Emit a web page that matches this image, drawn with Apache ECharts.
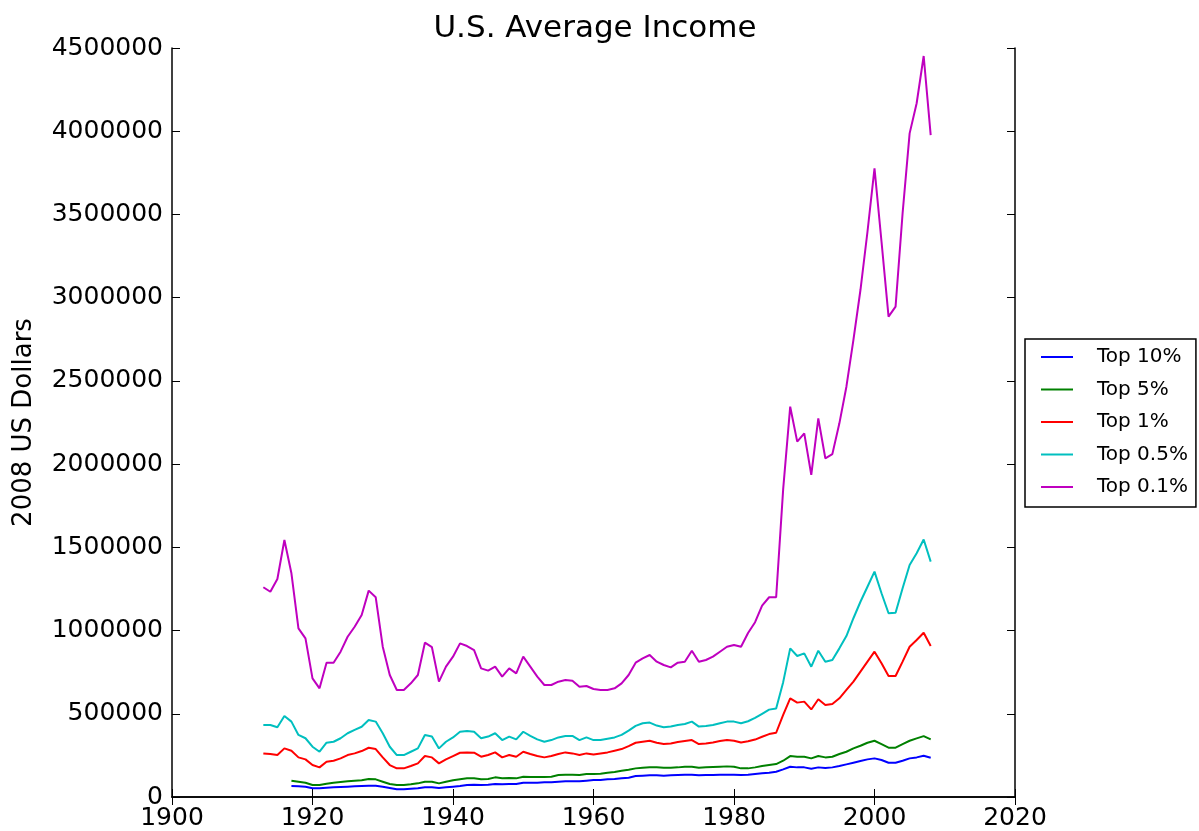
<!DOCTYPE html>
<html>
<head>
<meta charset="utf-8">
<script src="https://cdn.jsdelivr.net/npm/echarts@6/dist/echarts.min.js"></script>
<style>html,body{margin:0;padding:0;background:#fff;}#c{width:1199px;height:831px;}</style>
</head>
<body>
<div id="c"></div>
<script>
const startYear = 1913;
const endYear = 2008;
const xTicks = [1900, 1920, 1940, 1960, 1980, 2000, 2020];
const seriesNames = ['Top 10%', 'Top 5%', 'Top 1%', 'Top 0.5%', 'Top 0.1%'];
const seriesColors = ['#0000ff', '#008000', '#ff0000', '#00bfbf', '#bf00bf'];

const top10 = [
  null,null,null,null,66000,64000,62000,52000,52000,56000,
  58000,60000,62000,64000,66000,68000,68000,62000,54000,46000,
  46000,50000,52000,58000,58000,54000,58000,62000,66000,72000,
  74000,72000,74000,78000,76000,78000,78000,86000,86000,86000,
  88000,88000,92000,94000,94000,94000,98000,102000,102000,106000,
  108000,112000,116000,126000,128000,130000,130000,128000,130000,132000,
  134000,134000,130000,132000,132000,134000,134000,134000,132000,134000,
  138000,142000,146000,152000,166000,182000,178000,178000,170000,178000,
  174000,178000,186000,196000,206000,216000,226000,232000,222000,206000,
  206000,218000,232000,238000,248000,236000
];
const top5 = [
  null,null,null,null,98000,92000,86000,72000,72000,80000,
  86000,90000,94000,98000,100000,108000,106000,92000,78000,72000,
  72000,76000,82000,92000,92000,82000,92000,100000,106000,112000,
  112000,106000,108000,118000,112000,114000,112000,122000,120000,120000,
  120000,122000,132000,134000,134000,132000,138000,138000,140000,146000,
  150000,158000,164000,172000,176000,178000,178000,176000,176000,178000,
  182000,182000,176000,178000,180000,182000,184000,182000,172000,172000,
  178000,186000,192000,198000,218000,246000,242000,242000,232000,246000,
  238000,242000,258000,272000,292000,308000,326000,338000,318000,296000,
  296000,318000,338000,352000,366000,346000
];
const top1 = [
  262000,258000,252000,292000,278000,238000,226000,192000,178000,212000,
  218000,232000,252000,262000,276000,296000,288000,238000,192000,172000,
  172000,186000,202000,246000,238000,202000,226000,246000,266000,268000,
  266000,242000,252000,268000,238000,252000,242000,272000,258000,246000,
  238000,246000,258000,268000,262000,252000,262000,256000,262000,268000,
  278000,288000,306000,326000,332000,338000,326000,318000,322000,330000,
  336000,342000,318000,322000,328000,336000,342000,338000,328000,335000,
  345000,362000,378000,386000,493000,593000,567000,573000,526000,587000,
  553000,559000,593000,643000,693000,753000,813000,873000,803000,727000,
  727000,813000,903000,943000,987000,907000
];
const top05 = [
  433000,433000,419000,487000,453000,373000,353000,302000,272000,326000,
  332000,353000,383000,403000,422000,463000,453000,383000,302000,252000,
  252000,272000,292000,373000,363000,292000,332000,358000,392000,396000,
  392000,353000,363000,383000,342000,363000,346000,392000,367000,346000,
  332000,342000,358000,367000,367000,342000,358000,342000,342000,350000,
  358000,373000,399000,427000,443000,447000,429000,419000,423000,433000,
  439000,453000,423000,427000,433000,443000,453000,453000,443000,455000,
  475000,500000,525000,532000,690000,893000,847000,863000,783000,879000,
  813000,823000,893000,967000,1074000,1173000,1263000,1354000,1224000,1104000,
  1107000,1254000,1394000,1464000,1547000,1414000
];
const top01 = [
  1260000,1233000,1310000,1544000,1344000,1013000,953000,713000,653000,807000,
  807000,873000,963000,1023000,1093000,1240000,1200000,903000,733000,643000,
  643000,683000,733000,927000,900000,693000,783000,843000,923000,907000,
  883000,773000,759000,783000,723000,773000,743000,843000,783000,723000,
  673000,673000,693000,703000,699000,663000,667000,649000,643000,643000,
  653000,683000,733000,807000,833000,853000,813000,793000,779000,807000,
  813000,879000,813000,823000,843000,873000,903000,913000,903000,985000,
  1050000,1150000,1200000,1200000,1850000,2345000,2135000,2185000,1935000,2275000,
  2035000,2060000,2245000,2465000,2746000,3046000,3396000,3777000,3336000,2886000,
  2946000,3507000,3987000,4168000,4452000,3977000
];

const allValues = [top10, top5, top1, top05, top01];
function pairs(vals) {
  const out = [];
  for (let i = 0; i < vals.length; i++) {
    if (vals[i] !== null) out.push([startYear + i, vals[i]]);
  }
  return out;
}

const FONT = 'DejaVu Sans';
const chart = echarts.init(document.getElementById('c'), null, {renderer: 'canvas'});
const axisLine = {show: true, lineStyle: {color: '#000', width: 1.5}};
const axisTick = {show: true, inside: true, length: 8, lineStyle: {color: '#000', width: 1}};
const plain = v => String(v);

chart.setOption({
  animation: false,
  backgroundColor: '#fff',
  title: {
    text: 'U.S. Average Income',
    left: 590, top: 8, textAlign: 'center',
    textStyle: {fontFamily: FONT, fontSize: 31, fontWeight: 'normal', color: '#000'}
  },
  grid: {left: 172, right: 184, top: 48, bottom: 34, containLabel: false},
  legend: {
    orient: 'vertical',
    left: 1025, top: 339,
    data: seriesNames.map(n => ({name: n, icon: 'rect'})),
    itemWidth: 32, itemHeight: 2, itemGap: 12.5,
    padding: [8, 8, 10, 16],
    borderColor: '#000', borderWidth: 1.5,
    textStyle: {fontFamily: FONT, fontSize: 20, color: '#000', lineHeight: 20, padding: [0, 0, 0, 19]}
  },
  xAxis: [
    {type: 'value', min: xTicks[0], max: xTicks[xTicks.length - 1], interval: 20,
     axisLine: axisLine, axisTick: axisTick, splitLine: {show: false},
     axisLabel: {fontFamily: FONT, fontSize: 25, color: '#000', margin: 9, formatter: plain}},
    {type: 'value', position: 'top', min: xTicks[0], max: xTicks[xTicks.length - 1], interval: 20,
     axisLine: axisLine, axisTick: axisTick, splitLine: {show: false}, axisLabel: {show: false}}
  ],
  yAxis: [
    {type: 'value', min: 0, max: 4500000, interval: 500000,
     name: '2008 US Dollars', nameLocation: 'middle', nameGap: 135,
     nameTextStyle: {fontFamily: FONT, fontSize: 26, color: '#000'},
     axisLine: axisLine, axisTick: axisTick, splitLine: {show: false},
     axisLabel: {fontFamily: FONT, fontSize: 25, color: '#000', margin: 9, formatter: plain}},
    {type: 'value', position: 'right', min: 0, max: 4500000, interval: 500000,
     axisLine: axisLine, axisTick: axisTick, splitLine: {show: false}, axisLabel: {show: false}}
  ],
  series: seriesNames.map((name, i) => ({
    name: name,
    type: 'line',
    xAxisIndex: 0, yAxisIndex: 0,
    data: pairs(allValues[i]),
    symbol: 'none',
    color: seriesColors[i],
    lineStyle: {color: seriesColors[i], width: 2},
    emphasis: {disabled: true}
  }))
});
</script>
</body>
</html>
